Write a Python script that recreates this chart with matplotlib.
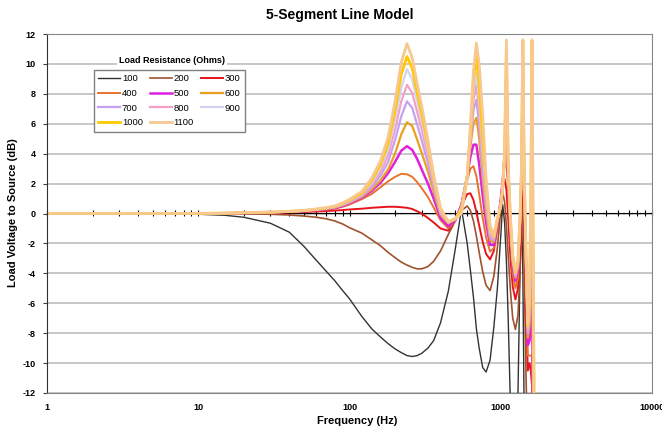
import matplotlib
matplotlib.use("Agg")
import matplotlib.pyplot as plt
from matplotlib.ticker import LogLocator, NullFormatter, NullLocator

plt.rcParams['font.family'] = ['Liberation Sans', 'DejaVu Sans']
plt.rcParams['axes.unicode_minus'] = False

# load resistances (ohms) and shared frequency grid (Hz)
load_ohms = [100, 200, 300, 400, 500, 600, 700, 800, 900, 1000, 1100]

freq_hz = [1, 5, 10, 15, 20, 30, 40, 50, 60, 70, 80, 90, 100, 120, 140, 160, 180, 200,
           220, 240, 260, 280, 300, 330, 360, 400, 450, 500,
           550, 600, 630, 660, 690, 720, 760, 800, 850, 900, 950, 1000, 1030, 1060,
           1090, 1120, 1160, 1200, 1250, 1300, 1340, 1370, 1400, 1430, 1470, 1510,
           1550, 1580, 1610, 1640, 1700, 2000, 10000]

# load voltage to source (dB)
db_100 = [0, 0, -0.05, -0.12, -0.25, -0.65, -1.25, -2.2, -3.1, -3.85, -4.5, -5.15, -5.7, -6.85,
          -7.7, -8.25, -8.7, -9.05, -9.3, -9.5, -9.56, -9.5, -9.35, -9.0, -8.5, -7.3, -5.2, -2.4,
          0.3, -2.0, -3.8, -5.6, -7.7, -9.0, -10.3, -10.6, -9.8, -7.6, -5.0, -1.5, 0.6, -0.6,
          -3.2, -7.0, -13, -20, -22, -12, -4, 0.3, -4, -14, -25, -30,
          -30, -30, -30, -30, -30, -30, -30]
db_200 = [0, 0, 0, 0, -0.02, -0.05, -0.1, -0.17, -0.25, -0.35, -0.5, -0.7, -0.95, -1.3,
          -1.75, -2.15, -2.6, -2.95, -3.25, -3.45, -3.6, -3.7, -3.7, -3.55, -3.2, -2.5, -1.4, -0.5,
          0.2, 0.5, 0.2, -0.5, -1.5, -2.6, -3.9, -4.8, -5.15, -4.2, -2.3, 0.2, 1.4, 0.8,
          -0.8, -2.8, -5.2, -7.0, -7.75, -6.8, -4.0, -1.0, 1.2, -4, -11, -16,
          -15, -14.5, -15, -22, -30, -30, -30]
db_300 = [0, 0, 0.01, 0.02, 0.03, 0.05, 0.08, 0.1, 0.13, 0.16, 0.2, 0.23, 0.27, 0.32,
          0.38, 0.42, 0.45, 0.45, 0.42, 0.38, 0.3, 0.15, 0.0, -0.3, -0.6, -1.0, -1.15, -0.45,
          0.5, 1.3, 1.35, 0.9, 0.1, -0.8, -1.9, -2.7, -3.07, -2.5, -1.0, 0.8, 1.8, 2.3,
          1.6, -0.3, -3.0, -4.9, -5.75, -5.0, -2.5, 0.3, 3.0, -0.5, -6.5, -10.5,
          -10, -10.5, -11.5, -18, -30, -30, -30]
db_400 = [0, 0, 0.01, 0.02, 0.03, 0.06, 0.1, 0.14, 0.2, 0.26, 0.33, 0.45, 0.6, 0.95,
          1.3, 1.75, 2.15, 2.45, 2.65, 2.62, 2.45, 2.1, 1.7, 1.1, 0.4, -0.45, -1.0, -0.5,
          0.6, 2.2, 3.0, 3.16, 2.5, 1.3, -0.3, -1.6, -2.55, -2.3, -0.9, 0.9, 2.0, 3.2,
          3.5, 1.5, -1.8, -4.0, -5.0, -4.3, -1.5, 1.5, 4.5, 0.5, -5, -9.5,
          -9.5, -9.5, -9.5, -16, -30, -30, -30]
db_500 = [0, 0, 0.01, 0.02, 0.04, 0.07, 0.11, 0.16, 0.22, 0.29, 0.37, 0.5, 0.68, 1.05,
          1.5, 2.05, 2.7, 3.45, 4.2, 4.5, 4.25, 3.65, 2.95, 2.0, 1.0, -0.3, -0.85, -0.45,
          0.6, 2.5, 3.8, 4.6, 4.6, 3.3, 1.2, -0.6, -2.1, -2.1, -0.7, 0.9, 2.2, 3.8,
          5.2, 2.3, -1.2, -3.5, -4.5, -3.8, -1.0, 2.0, 6.0, 1.5, -4, -8.8,
          -8.5, -7.5, -6, -14, -30, -30, -30]
db_600 = [0, 0, 0.01, 0.02, 0.04, 0.08, 0.12, 0.17, 0.24, 0.31, 0.4, 0.54, 0.72, 1.1,
          1.6, 2.2, 2.95, 4.0, 5.3, 6.1, 5.85, 4.95, 4.05, 2.8, 1.45, -0.1, -0.65, -0.4,
          0.5, 2.5, 4.5, 6.0, 6.4, 5.0, 2.2, 0.0, -1.8, -1.9, -0.6, 0.7, 1.9, 3.9,
          7.0, 2.6, -0.9, -3.3, -4.3, -3.6, -0.8, 2.3, 8.0, 2.0, -3.5, -8.3,
          -7.5, -5.5, -2, -12, -30, -30, -30]
db_700 = [0, 0, 0.01, 0.02, 0.04, 0.08, 0.12, 0.18, 0.25, 0.32, 0.42, 0.56, 0.76, 1.15,
          1.75, 2.5, 3.45, 4.9, 6.5, 7.5, 7.05, 5.95, 4.9, 3.35, 1.75, 0.0, -0.6, -0.4,
          0.4, 2.5, 4.8, 6.9, 7.6, 6.0, 2.9, 0.5, -1.6, -1.8, -0.5, 0.6, 1.8, 3.9,
          8.2, 2.8, -0.8, -3.2, -4.2, -3.5, -0.7, 2.5, 9.5, 2.2, -3.3, -8.0,
          -7.0, -4, 2, -10, -30, -30, -30]
db_800 = [0, 0, 0.01, 0.02, 0.04, 0.08, 0.13, 0.18, 0.26, 0.34, 0.44, 0.6, 0.8, 1.2,
          1.9, 2.75, 3.9, 5.6, 7.5, 8.6, 8.05, 6.8, 5.6, 3.85, 2.05, 0.1, -0.6, -0.35,
          0.4, 2.5, 5.0, 7.6, 8.6, 6.8, 3.6, 1.0, -1.4, -1.7, -0.5, 0.6, 1.8, 3.9,
          9.2, 2.9, -0.7, -3.1, -4.1, -3.4, -0.6, 2.6, 10.5, 2.3, -3.2, -7.8,
          -6.5, -2.5, 6, -8, -30, -30, -30]
db_900 = [0, 0, 0.01, 0.02, 0.04, 0.09, 0.13, 0.19, 0.27, 0.35, 0.46, 0.63, 0.85, 1.3,
          2.05, 3.0, 4.3, 6.25, 8.4, 9.65, 8.95, 7.5, 6.2, 4.25, 2.25, 0.2, -0.6, -0.35,
          0.3, 2.5, 5.2, 8.2, 9.4, 7.6, 4.2, 1.5, -1.2, -1.6, -0.4, 0.5, 1.7, 3.9,
          10.2, 3.0, -0.6, -3.0, -4.0, -3.3, -0.5, 2.7, 11.2, 2.4, -3.1, -7.6,
          -6, -1, 9.5, -6, -30, -30, -30]
db_1000 = [0, 0, 0.01, 0.02, 0.05, 0.09, 0.14, 0.2, 0.28, 0.37, 0.48, 0.66, 0.9, 1.35,
           2.2, 3.25, 4.7, 6.9, 9.3, 10.5, 9.7, 8.1, 6.7, 4.6, 2.45, 0.3, -0.55, -0.35,
           0.2, 2.5, 5.5, 9.0, 10.5, 8.6, 5.0, 2.0, -1.0, -1.55, -0.4, 0.5, 1.7, 3.9,
           11.0, 3.1, -0.5, -2.9, -3.9, -3.2, -0.4, 2.8, 11.6, 2.5, -3.0, -7.5,
           -5.5, 0, 11.6, -4, -30, -30, -30]
db_1100 = [0, 0, 0.01, 0.02, 0.05, 0.1, 0.15, 0.21, 0.3, 0.39, 0.5, 0.7, 0.95, 1.45,
           2.35, 3.5, 5.1, 7.5, 10.1, 11.36, 10.4, 8.7, 7.2, 4.9, 2.6, 0.35, -0.55, -0.35,
           0.0, 2.4, 5.9, 9.5, 11.4, 10.0, 6.6, 2.3, -0.8, -1.5, -0.3, 0.5, 1.7, 4.0,
           11.6, 3.2, -0.4, -2.8, -3.8, -3.1, -0.3, 2.9, 11.6, 2.6, -2.9, -7.4,
           -5, 1, 11.6, -3, -30, -30, -30]

curves = [db_100, db_200, db_300, db_400, db_500, db_600, db_700, db_800, db_900,
          db_1000, db_1100]
colors = ['#333333', '#A0522D', '#E8141B', '#E8742C', '#E020E0', '#E8A020',
          '#C8A0F0', '#F4A0C8', '#D2D2F2', '#FFC800', '#F8C890']
widths = [1.0, 1.2, 1.4, 1.4, 1.8, 1.6, 1.6, 1.6, 1.6, 2.0, 2.0]

fig = plt.figure(figsize=(6.62, 4.37), dpi=100)
ax = fig.add_axes([47 / 662, 44 / 437, 605 / 662, 359 / 437])

for r, db, c, w in zip(load_ohms, curves, colors, widths):
    ax.plot(freq_hz, db, color=c, lw=w, label=str(r), solid_joinstyle='round')

ax.set_xscale('log')
ax.set_xlim(1, 10000)
ax.set_ylim(-12, 12)
ax.set_yticks(range(-12, 13, 2))
ax.set_xticks([1, 10, 100, 1000, 10000])
ax.set_xticklabels(['1', '10', '100', '1000', '10000'])
ax.xaxis.set_minor_locator(NullLocator())
ax.yaxis.grid(True, color='#BEBEBE', lw=1.2)
ax.tick_params(axis='x', length=0, pad=7, labelsize=6.5)
ax.tick_params(axis='y', length=3, pad=5, labelsize=6.5, color='#404040')
for lab in ax.get_xticklabels() + ax.get_yticklabels():
    lab.set_fontweight('bold')
for side in ['top', 'right', 'bottom']:
    ax.spines[side].set_color('#868686')
ax.spines['left'].set_color('#303030')

# category axis crossing at 0 dB, with ticks
sec = ax.secondary_xaxis(0.5)
sec.xaxis.set_major_locator(LogLocator(base=10))
sec.xaxis.set_minor_locator(LogLocator(base=10, subs=range(2, 10)))
sec.xaxis.set_major_formatter(NullFormatter())
sec.xaxis.set_minor_formatter(NullFormatter())
sec.tick_params(which='both', direction='inout', length=4, width=0.8, color='black')
for s in sec.spines.values():
    s.set_color('black')
sec.set_zorder(1.7)

handles, labels = ax.get_legend_handles_labels()
order = [0, 3, 6, 9, 1, 4, 7, 10, 2, 5, 8]
leg = ax.legend([handles[i] for i in order], [labels[i] for i in order], ncol=3,
                loc='upper left', bbox_to_anchor=(0.0777, 0.8997), fontsize=6.8,
                frameon=True, fancybox=False, edgecolor='#808080', framealpha=1,
                handlelength=2.3, handletextpad=0.2, columnspacing=0.75,
                labelspacing=0.6, borderpad=0.45, borderaxespad=0)
leg.get_frame().set_linewidth(1.0)
ax.text(0.2066, 0.9248, 'Load Resistance (Ohms)', transform=ax.transAxes,
        ha='center', va='center', fontsize=6.5, fontweight='bold',
        bbox=dict(facecolor='white', edgecolor='none', pad=1.5))

fig.text(340 / 662, 1 - 15 / 437, '5-Segment Line Model', ha='center', va='center',
         fontsize=10, fontweight='bold')
fig.text(13 / 662, 1 - 213 / 437, 'Load Voltage to Source (dB)', rotation=90,
         ha='center', va='center', fontsize=8, fontweight='bold')
fig.text(357 / 662, 1 - 421 / 437, 'Frequency (Hz)', ha='center', va='center',
         fontsize=8, fontweight='bold')

fig.savefig('out.png', dpi=100)
